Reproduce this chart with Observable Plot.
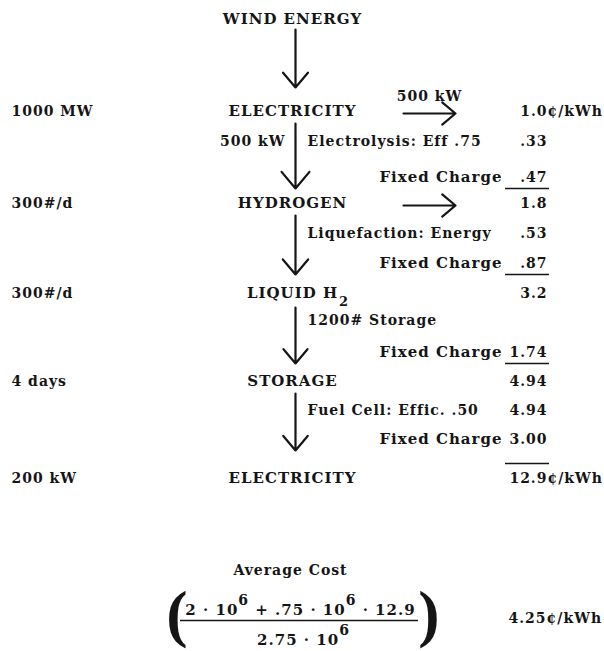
<!DOCTYPE html>
<html><head><meta charset="utf-8">
<script src="https://cdn.jsdelivr.net/npm/d3@7"></script>
<script src="https://cdn.jsdelivr.net/npm/@observablehq/plot@0.6"></script>
<style>body{margin:0;background:#fff}</style>
</head><body><div id="chart"></div>
<script>
// ---- data ----
const stages = ["WIND ENERGY","ELECTRICITY","HYDROGEN","LIQUID H","STORAGE","ELECTRICITY"];
const stageSub = [null,null,null,"2",null,null];
const quantities = [null,"1000 MW","300#/d","300#/d","4 days","200 kW"];
const stageCosts = [null,"1.0","1.8","3.2","4.94","12.9"];
const costUnits = [null,"¢/kWh",null,null,null,"¢/kWh"];
const stepLabels = ["Electrolysis: Eff .75","Liquefaction: Energy","1200# Storage","Fuel Cell: Effic. .50"];
const stepCosts = [".33",".53",null,"4.94"];
const fixedLabel = "Fixed Charge";
const fixedCharges = [".47",".87","1.74","3.00"];
const transferLabel = "500 kW";
const avgTitle = "Average Cost";
const numerParts = ["2 · 10","6"," + .75 · 10","6"," · 12.9"];
const denomParts = ["2.75 · 10","6"];
const avgResult = "4.25¢/kWh";

// ---- layout ----
const W = 604, H = 651;
const FONT = "'DejaVu Serif', serif";
const LS = 1;
const INK = "#151515";
const stageY = [19,111,203,293,381,478];
const stepY  = [141,233,320,410];
const fixedY = [177,263,352,439];
const X = {left: 11, center: 292, arrow: 295, stepStart: 307, fixedEnd: 502, valueEnd: 547, hArrow: [403,455]};

const ctx = document.createElement("canvas").getContext("2d");
function tw(s, size, weight = "bold") {
  ctx.font = `${weight} ${size}px 'DejaVu Serif'`;
  ctx.letterSpacing = LS + "px";
  return ctx.measureText(s).width;
}

const FS = 14, FSS = 15;

const stageRows = stages.map((t, i) => ({t, x: X.center, y: stageY[i]}));
const subRows = stages.flatMap((t, i) => stageSub[i] ? [{t: stageSub[i], x: X.center + tw(t, FSS) / 2 + 1, y: stageY[i] + 8}] : []);
const qtyRows = quantities.flatMap((t, i) => t ? [{t, x: X.left, y: stageY[i]}] : []);
const costRows = stageCosts.flatMap((t, i) => t ? [{t, x: X.valueEnd, y: stageY[i]}] : []);
const unitRows = costUnits.flatMap((t, i) => t ? [{t, x: X.valueEnd, y: stageY[i]}] : []);
const stepRows = stepLabels.map((t, i) => ({t, x: X.stepStart, y: stepY[i]}));
const stepCostRows = stepCosts.flatMap((t, i) => t ? [{t, x: X.valueEnd, y: stepY[i]}] : []);
const fixedLabelRows = fixedCharges.map((t, i) => ({t: fixedLabel, x: X.fixedEnd, y: fixedY[i]}));
const fixedRows = fixedCharges.map((t, i) => ({t, x: X.valueEnd, y: fixedY[i]}));
const underRows = fixedCharges.slice(0, 3).map((t, i) => ({y: fixedY[i] + 11, x1: X.valueEnd - 42, x2: X.valueEnd + 2}));
underRows.push({y: stageY[5] - 15, x1: X.valueEnd - 42, x2: X.valueEnd + 2});

const vArrows = [{x1: X.arrow, y1: stageY[0] + 10, x2: X.arrow, y2: stageY[1] - 24}];
for (let i = 1; i < 5; i++) vArrows.push({x1: X.arrow, y1: stageY[i] + (stageSub[i] ? 14 : 12), x2: X.arrow, y2: fixedY[i - 1] + 11});
const hArrows = [1, 2].map(i => ({x1: X.hArrow[0], y1: stageY[i] + 2, x2: X.hArrow[1], y2: stageY[i] + 2}));
const transferRows = [
  {t: transferLabel, x: (X.hArrow[0] + X.hArrow[1]) / 2, y: stageY[1] - 15, a: "middle"},
  {t: transferLabel, x: X.arrow - 10, y: stepY[0], a: "end"}
];

// formula
function layoutParts(parts, cx, y, supDy) {
  const widths = parts.map((p, k) => tw(p, k % 2 ? 14 : 15));
  const total = d3.sum(widths);
  let x = cx - total / 2;
  return parts.map((p, k) => { const r = {t: p, x, y: k % 2 ? y - supDy : y, sup: k % 2 === 1}; x += widths[k]; return r; });
}
const numRows = layoutParts(numerParts, 300, 610, 10);
const denRows = layoutParts(denomParts, 303, 640, 10);

const chart = Plot.plot({
  width: W, height: H, margin: 0,
  x: {type: "linear", domain: [0, W], range: [0, W], axis: null},
  y: {type: "linear", domain: [0, H], range: [0, H], axis: null},
  style: {fontFamily: FONT, fontWeight: "bold", letterSpacing: LS + "px", background: "#fff", color: INK},
  marks: [
    Plot.text(stageRows, {x: "x", y: "y", text: "t", textAnchor: "middle", fontSize: FSS, fontWeight: "bold"}),
    Plot.text(subRows, {x: "x", y: "y", text: "t", textAnchor: "start", fontSize: 13, fontWeight: "bold"}),
    Plot.text(qtyRows, {x: "x", y: "y", text: "t", textAnchor: "start", fontSize: FS, fontWeight: "bold"}),
    Plot.text(costRows, {x: "x", y: "y", text: "t", textAnchor: "end", fontSize: FS, fontWeight: "bold"}),
    Plot.text(unitRows, {x: "x", y: "y", text: "t", textAnchor: "start", fontSize: FS, fontWeight: "bold"}),
    Plot.text(stepRows, {x: "x", y: "y", text: "t", textAnchor: "start", fontSize: FS, fontWeight: "bold"}),
    Plot.text(stepCostRows, {x: "x", y: "y", text: "t", textAnchor: "end", fontSize: FS, fontWeight: "bold"}),
    Plot.text(fixedLabelRows, {x: "x", y: "y", text: "t", textAnchor: "end", fontSize: 15, fontWeight: "bold"}),
    Plot.text(fixedRows, {x: "x", y: "y", text: "t", textAnchor: "end", fontSize: FS, fontWeight: "bold"}),
    Plot.text(transferRows, {x: "x", y: "y", text: "t", textAnchor: "middle", fontSize: FS, fontWeight: "bold", filter: d => d.a === "middle"}),
    Plot.text(transferRows, {x: "x", y: "y", text: "t", textAnchor: "end", fontSize: FS, fontWeight: "bold", filter: d => d.a === "end"}),
    Plot.ruleY(underRows, {y: "y", x1: "x1", x2: "x2", stroke: INK, strokeWidth: 1.6}),
    Plot.arrow(vArrows, {x1: "x1", y1: "y1", x2: "x2", y2: "y2", stroke: INK, strokeWidth: 2.2, headLength: 15, headAngle: 80}),
    Plot.arrow(hArrows, {x1: "x1", y1: "y1", x2: "x2", y2: "y2", stroke: INK, strokeWidth: 2.2, headLength: 13, headAngle: 80}),
    Plot.text([avgTitle], {x: 290, y: 570, text: d => d, textAnchor: "middle", fontSize: FS, fontWeight: "bold"}),
    Plot.text(numRows, {x: "x", y: "y", text: "t", textAnchor: "start", fontSize: d => d.sup ? 14 : 15, fontWeight: "bold"}),
    Plot.text(denRows, {x: "x", y: "y", text: "t", textAnchor: "start", fontSize: d => d.sup ? 14 : 15, fontWeight: "bold"}),
    Plot.ruleY([620], {x1: 180, x2: 418, stroke: INK, strokeWidth: 1.6}),
    Plot.text(["(", ")"], {x: (d, i) => i ? 429 : 177, y: 614, text: d => d, textAnchor: "middle", fontSize: 64, fontWeight: "bold", fontFamily: "'Liberation Serif', serif"}),
    Plot.text([avgResult], {x: 508, y: 618, text: d => d, textAnchor: "start", fontSize: FS, fontWeight: "bold"})
  ]
});
document.getElementById("chart").appendChild(chart);
</script>
</body></html>
